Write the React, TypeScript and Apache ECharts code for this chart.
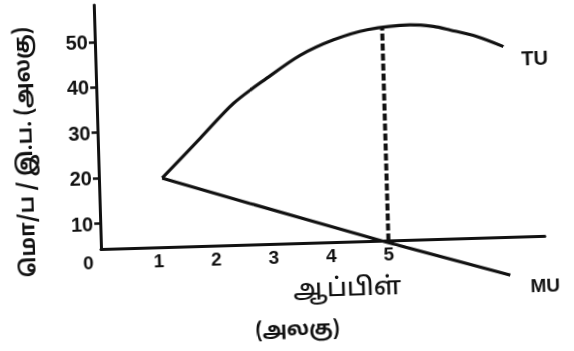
import React, { useEffect, useRef } from "react";
import * as echarts from "echarts";

// TU (total utility)
const tuX = [1.1, 1.78, 2.38, 2.97, 3.56, 4.15, 4.74, 5.49, 5.89, 6.18, 6.64, 7.1];
const tuY = [19.6, 28.1, 35.6, 40.9, 45.7, 48.9, 50.9, 51.7, 51.2, 50.3, 48.7, 46.3];
// MU (marginal utility)
const muX = [1.1, 2.6, 3.8, 4.9, 7.1];
const muY = [19.6, 13.5, 8.7, 4.3, -4.0];
// dashed drop line at the TU maximum
const dropX = [5.0, 5.0];
const dropY = [4.4, 51.2];
// axes
const xTicks = [0, 1, 2, 3, 4, 5];
const yTicks = [10, 20, 30, 40, 50];
const xMin = 0;
const xMax = 7.72;
const yMin = 4.4;
const yMax = 58.1;

const yName = "மொ/ப / இ.ப. (அலகு)";
const xName = "ஆப்பிள்";
const xUnit = "(அலகு)";
const tuName = "TU";
const muName = "MU";

const INK = "#111111";
const NUM_FONT = "'Liberation Sans', Arial, sans-serif";
const TAMIL_FONT = "'Noto Sans Tamil', 'Lohit Tamil', 'Noto Sans', sans-serif";

export default function App() {
  const ref = useRef<HTMLDivElement>(null);
  useEffect(() => {
    if (!ref.current) return;
    const chart = echarts.init(ref.current, undefined, { renderer: "svg" });
    const pairs = (xs: number[], ys: number[]) => xs.map((x, i) => [x, ys[i]]);
    chart.setOption({
      animation: false,
      backgroundColor: "#ffffff",
      grid: { left: 101, top: 5, width: 444, height: 244, containLabel: false, outerBoundsMode: "none" },
      xAxis: {
        type: "value",
        min: xMin,
        max: xMax,
        axisLine: { show: true, onZero: false, lineStyle: { color: INK, width: 3 } },
        axisTick: { show: false },
        splitLine: { show: false },
        axisLabel: {
          customValues: xTicks,
          margin: 4,
          color: INK,
          fontFamily: NUM_FONT,
          fontWeight: "bold",
          fontSize: 19,
          formatter: (v: number) => {
            if (!xTicks.includes(v)) return "";
            return v === 0 ? "{o|0}" : String(v);
          },
          rich: {
            o: { padding: [0, 26, 0, 0], color: INK, fontFamily: NUM_FONT, fontWeight: "bold", fontSize: 19 },
          },
        },
      },
      yAxis: {
        type: "value",
        min: yMin,
        max: yMax,
        axisLine: { show: true, onZero: false, lineStyle: { color: INK, width: 3 } },
        axisTick: { show: true, customValues: yTicks, length: 6, lineStyle: { color: INK, width: 2.5 } },
        splitLine: { show: false },
        axisLabel: {
          customValues: yTicks,
          margin: 7,
          color: INK,
          fontFamily: NUM_FONT,
          fontWeight: "bold",
          fontSize: 20,
          padding: [6, 0, 0, 0],
          formatter: (v: number) => (yTicks.includes(v) ? String(v) : ""),
        },
      },
      series: [
        {
          name: tuName,
          type: "line",
          data: pairs(tuX, tuY),
          smooth: 0.3,
          symbol: "none",
          clip: false,
          lineStyle: { color: INK, width: 3.2 },
        },
        {
          name: muName,
          type: "line",
          data: pairs(muX, muY),
          smooth: false,
          symbol: "none",
          clip: false,
          lineStyle: { color: INK, width: 3.2 },
        },
        {
          name: "drop",
          type: "line",
          data: pairs(dropX, dropY),
          symbol: "none",
          clip: false,
          lineStyle: { color: INK, width: 4, type: [7, 3], cap: "butt" },
        },
      ],
      graphic: [
        {
          type: "text",
          x: 540,
          y: 71,
          style: { text: tuName, fill: INK, font: `bold 20px ${NUM_FONT}`, textAlign: "center", textVerticalAlign: "middle", align: "center", verticalAlign: "middle" },
        },
        {
          type: "text",
          x: 544,
          y: 298,
          style: { text: muName, fill: INK, font: `bold 19px ${NUM_FONT}`, textAlign: "center", textVerticalAlign: "middle", align: "center", verticalAlign: "middle" },
        },
        {
          type: "text",
          x: 346,
          y: 296,
          style: { text: xName, fill: INK, font: `500 25px ${TAMIL_FONT}`, textAlign: "center", textVerticalAlign: "middle", align: "center", verticalAlign: "middle" },
        },
        {
          type: "text",
          x: 295,
          y: 336,
          style: { text: xUnit, fill: INK, font: `bold 20px ${TAMIL_FONT}`, textAlign: "center", textVerticalAlign: "middle", align: "center", verticalAlign: "middle" },
        },
        {
          type: "text",
          x: 30,
          y: 150,
          rotation: Math.PI / 2,
          style: { text: yName, fill: INK, font: `bold 21px ${TAMIL_FONT}`, textAlign: "center", textVerticalAlign: "middle", align: "center", verticalAlign: "middle" },
        },
      ],
    });
    return () => chart.dispose();
  }, []);
  return (
    <div
      ref={ref}
      style={{
        position: "fixed",
        left: 0,
        top: 0,
        width: 574,
        height: 351,
        background: "#ffffff",
        transform: "rotate(-1.7deg)",
        transformOrigin: "101px 249px",
      }}
    />
  );
}
